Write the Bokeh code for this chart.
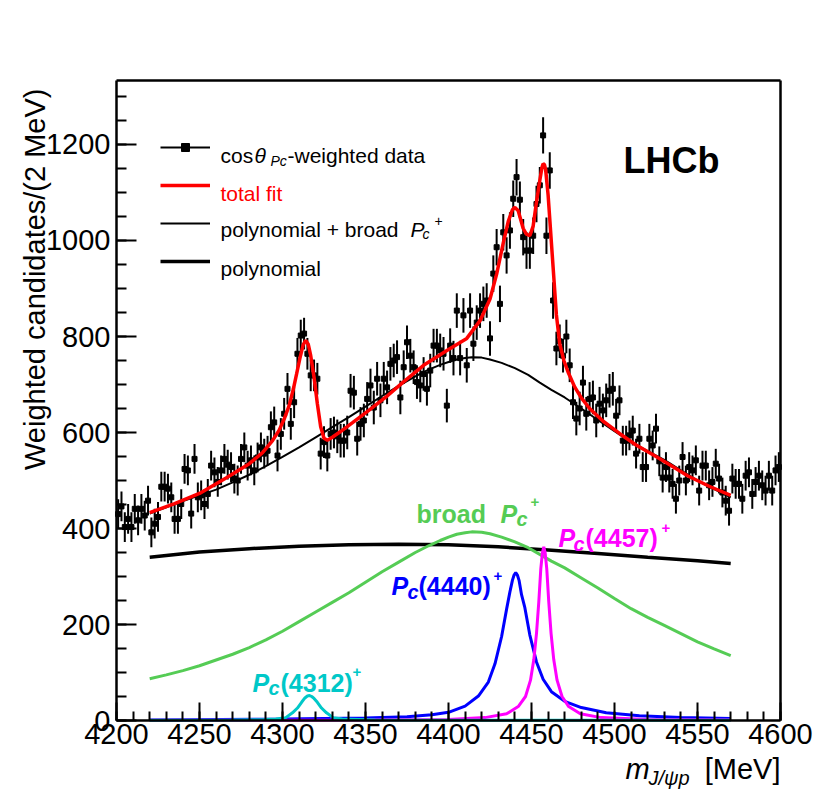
import math
from bokeh.plotting import figure
from bokeh.models import (Range1d, FixedTicker, Label, Legend, LegendItem, ColumnDataSource,
                          LinearAxis)
from bokeh.embed import file_html
from bokeh.resources import INLINE

# ---------------- data ----------------
bin_width = 2.0
bin_lo = 4200
n_bins = 200
data_m = [bin_lo + bin_width * (i + 0.5) for i in range(n_bins)]
data_v = [
    430, 446, 403, 420, 403, 441, 417, 441, 427, 458,
    392, 410, 424, 487, 487, 483, 465, 420, 420, 451,
    524, 521, 431, 545, 465, 469, 451, 472, 531, 517,
    497, 521, 545, 533, 528, 504, 500, 545, 569, 531,
    542, 521, 548, 569, 556, 562, 611, 621, 552, 597,
    639, 691, 618, 663, 764, 802, 806, 764, 719, 719,
    712, 556, 580, 552, 597, 600, 592, 583, 583, 600,
    687, 683, 587, 618, 625, 670, 698, 652, 712, 667,
    712, 694, 743, 750, 757, 673, 736, 788, 760, 736,
    705, 698, 722, 691, 729, 781, 781, 771, 764, 656,
    781, 755, 854, 755, 844, 740, 854, 785, 829, 854,
    868, 875, 796, 931, 986, 868, 1017, 969, 1021, 1087,
    1132, 1085, 1007, 979, 979, 1010, 1076, 1115, 1219, 1010,
    1146, 875, 775, 790, 760, 800, 740, 663, 629, 650,
    704, 639, 670, 673, 625, 660, 646, 667, 687, 691,
    635, 667, 583, 583, 594, 604, 556, 587, 528, 528,
    587, 573, 608, 540, 506, 528, 506, 493, 462, 500,
    549, 500, 528, 521, 542, 479, 531, 531, 490, 497,
    535, 504, 475, 458, 437, 504, 493, 493, 462, 510,
    517, 472, 497, 510, 490, 479, 510, 479, 521, 528,
]
data_err = [31] * 46 + [33] * 20 + [35] * 34 + [36] * 13 + [38] * 19 + [35] * 19 + [31] * 49

# total fit (red)
fit_m = [4220, 4235, 4250, 4266, 4280, 4288, 4294, 4298, 4301, 4304, 4306.5, 4308.5, 4310.5,
         4312.5, 4314, 4315.5, 4317, 4319, 4321, 4323, 4325, 4327, 4330, 4335, 4342, 4352,
         4362, 4372, 4385, 4400, 4411, 4419, 4425, 4429, 4433, 4436, 4438.5, 4440, 4442,
         4445, 4447, 4449, 4451, 4453, 4455, 4456.3, 4457, 4457.8, 4458.5, 4460, 4461.5, 4463,
         4465, 4467, 4469.5, 4472, 4476, 4480, 4485, 4493, 4503, 4513, 4524, 4534, 4544,
         4557, 4570]
fit_v = [433, 452, 473, 505, 535, 558, 583, 605, 628, 656, 690, 722, 755,
         783, 792, 784, 760, 715, 660, 612, 588, 584, 590, 602, 620, 646,
         673, 703, 740, 773, 796, 833, 878, 930, 995, 1040, 1064, 1069, 1062,
         1025, 1013, 1010, 1030, 1080, 1125, 1152, 1160, 1158, 1148, 1095, 1020, 945,
         845, 785, 750, 726, 695, 672, 650, 624, 598, 574, 552, 531, 510,
         488, 469]

# smooth components
comp_m = [4220, 4230, 4240, 4250, 4260, 4270, 4280, 4290, 4300, 4310, 4320, 4330, 4340,
          4350, 4360, 4370, 4380, 4388, 4395, 4400, 4405, 4410, 4414, 4420, 4425, 4432,
          4440, 4448, 4455, 4462, 4470, 4480, 4490, 4500, 4510, 4520, 4530, 4540, 4550,
          4560, 4570]
broad_v = [87, 95, 104, 114, 126, 138, 152, 168, 186, 206, 226, 246, 266,
           288, 310, 330, 350, 364, 375, 382, 388, 391, 393, 392, 389, 382,
           372, 360, 346, 332, 318, 297, 276, 254, 233, 215, 198, 181, 164,
           149, 135]
polybroad_v = [431, 444, 457, 469, 481, 496, 512, 530, 549, 569, 590, 611, 632,
               654, 676, 697, 717, 731, 741, 747, 752, 755, 757, 756, 752, 745,
               734, 720, 704, 689, 673, 650, 626, 603, 580, 561, 543, 521, 500,
               482, 465]

poly_m = [4220, 4250, 4280, 4310, 4340, 4370, 4400, 4430, 4460, 4490, 4520, 4550, 4570]
poly_v = [340, 351, 358, 363, 366, 367, 366, 362, 355, 348, 340, 333, 327]

pc4440_m = [4220, 4300, 4350, 4375, 4390, 4400, 4410, 4418, 4424, 4428, 4432, 4435, 4437,
            4438.5, 4439.5, 4440.5, 4441.5, 4442.5, 4444, 4446, 4449, 4453, 4457, 4462,
            4470, 4480, 4495, 4515, 4540, 4570]
pc4440_v = [1, 3, 5, 8, 12, 17, 30, 51, 80, 118, 175, 232, 268,
            292, 303, 308, 303, 292, 262, 235, 178, 122, 86, 60,
            40, 27, 16, 10, 6, 4]

pc4457_m = [4220, 4350, 4400, 4422, 4435, 4442, 4446.4, 4449.4, 4451.4, 4453, 4454.4, 4455.6,
            4456.6, 4457.4, 4458.2, 4459.2, 4460.4, 4461.8, 4463.4, 4465.4, 4468.4, 4472.4,
            4479.4, 4492, 4520, 4570]
pc4457_v = [0.3, 1, 2, 6, 14, 29, 50, 84, 127, 181, 247, 316,
            350, 362, 350, 316, 247, 181, 127, 84, 50, 29,
            14, 6, 2, 1]

pc4312_m = [4220, 4270, 4290, 4296, 4302, 4306, 4309, 4311.5, 4313.5, 4315, 4316.3, 4317.6,
            4319, 4321, 4323.5, 4326.5, 4330.5, 4336, 4356, 4420, 4570]
pc4312_v = [0.3, 0.8, 2, 3, 6, 16, 26, 38, 47, 51, 52, 50,
            46, 38, 26, 16, 6, 3, 1, 0.5, 0.3]

x_ticks = [4200, 4250, 4300, 4350, 4400, 4450, 4500, 4550, 4600]
x_minor = [v for v in range(4200, 4601, 10)]
y_ticks = [0, 200, 400, 600, 800, 1000, 1200]
y_minor = [v for v in range(0, 1301, 50)]

# ---------------- figure ----------------
X0, X1, Y0, Y1 = 4200.0, 4600.0, 0.0, 1333.3333
FL, FR, FT, FB = 116.0, 780.0, 80.0, 720.0  # axes box in page pixels
W, H = 822, 793
SX = (FR - FL) / (X1 - X0)
SY = (FB - FT) / (Y1 - Y0)


def mx(px):
    return X0 + (px - FL) / SX


def vy(py):
    return Y0 + (FB - py) / SY


# the frame covers the whole canvas; the axes are drawn at fixed data locations
p = figure(width=W, height=H,
           x_range=Range1d(mx(0), mx(W)), y_range=Range1d(vy(H), vy(0)),
           x_axis_location=None, y_axis_location=None,
           output_backend="svg", toolbar_location=None, min_border=0)
p.xgrid.visible = False
p.ygrid.visible = False
p.outline_line_color = None
p.background_fill_color = "white"
p.border_fill_color = "white"


def styled_axis(loc, bounds, ticks, minor, tin, mtin, labels=True):
    ax = LinearAxis(fixed_location=loc, bounds=bounds,
                    ticker=FixedTicker(ticks=ticks, minor_ticks=minor))
    ax.major_tick_in = tin
    ax.major_tick_out = 0
    ax.minor_tick_in = mtin
    ax.minor_tick_out = 0
    ax.axis_line_width = 2.5
    ax.axis_line_color = "black"
    ax.major_tick_line_width = 2
    ax.minor_tick_line_width = 2
    ax.major_label_text_font = "Liberation Sans"
    ax.major_label_text_font_size = "29px" if labels else "0px"
    ax.major_label_text_color = "black"
    return ax


xax = styled_axis(Y0, (X0, X1), x_ticks, x_minor, 18, 9)
xax.major_label_standoff = 3
yax = styled_axis(X0, (Y0, Y1), y_ticks, y_minor, 20, 10)
yax.major_label_standoff = 6
tax = styled_axis(Y1, (X0, X1), [], [], 0, 0, labels=False)
rax = styled_axis(X1, (Y0, Y1), [], [], 0, 0, labels=False)
p.add_layout(xax, "below")
p.add_layout(yax, "left")
p.add_layout(tax, "above")
p.add_layout(rax, "right")

# ---------------- curves & data ----------------
GREEN, BLUE, MAG, CYAN = "#55cc55", "#0000ff", "#ff00ff", "#00c8c8"
r_poly = p.line(poly_m, poly_v, line_color="black", line_width=3.5)
r_broad = p.line(comp_m, broad_v, line_color=GREEN, line_width=3)
r_4440 = p.line(pc4440_m, pc4440_v, line_color=BLUE, line_width=3)
r_4457 = p.line(pc4457_m, pc4457_v, line_color=MAG, line_width=3)
r_4312 = p.line(pc4312_m, pc4312_v, line_color=CYAN, line_width=3)

src = ColumnDataSource(dict(
    x=data_m, y=data_v,
    lo=[v - e for v, e in zip(data_v, data_err)],
    hi=[v + e for v, e in zip(data_v, data_err)],
))
r_err = p.segment(x0="x", y0="lo", x1="x", y1="hi", source=src, line_color="black", line_width=2)
r_pts = p.scatter(x="x", y="y", source=src, marker="square", size=5, fill_color="black", line_color="black")

r_pb = p.line(comp_m, polybroad_v, line_color="black", line_width=2)
r_fit = p.line(fit_m, fit_v, line_color="#ff0000", line_width=3.5)

legend = Legend(items=[
    LegendItem(label=" ", renderers=[r_err, r_pts]),
    LegendItem(label=" ", renderers=[r_fit]),
    LegendItem(label=" ", renderers=[r_pb]),
    LegendItem(label=" ", renderers=[r_poly]),
], location=(160, H - 271), glyph_width=50, glyph_height=20, label_height=20, spacing=18,
    padding=0, margin=0, border_line_color=None, background_fill_alpha=0,
    label_text_font_size="2px")
p.add_layout(legend)

# ---------------- texts ----------------
FONT = "Liberation Sans"


def txt(s, px, py, size, style="normal", color="black", align="left", angle=0.0, baseline="alphabetic"):
    p.add_layout(Label(x=mx(px), y=vy(py), text=s, text_font=FONT, text_font_size=f"{size}px",
                       text_font_style=style, text_color=color, text_align=align,
                       text_baseline=baseline, angle=angle))


# legend texts
txt("cos", 220, 155, 21)
txt("θ", 254, 155, 21, "italic")
txt("Pc", 270, 160, 14, "italic")
txt("-weighted data", 287, 155, 21)
txt("total fit", 220, 193, 21, color="#ff0000")
txt("polynomial + broad", 220, 229, 21)
txt("P", 410, 229, 21, "italic")
txt("c", 422, 233, 14, "italic")
txt("+", 434, 220, 14)
txt("polynomial", 220, 268, 21)

# LHCb
txt("LHCb", 623, 160, 36, "bold")

# component labels
txt("broad", 416, 513, 25, "bold", GREEN)
txt("P", 500, 513, 25, "bold italic", GREEN)
txt("c", 516, 518, 20, "bold italic", GREEN)
txt("+", 530, 501, 15, "bold", GREEN)

txt("P", 558, 537, 25, "bold italic", MAG)
txt("c", 573, 543, 20, "bold italic", MAG)
txt("(4457)", 585, 537, 25, "bold", MAG)
txt("+", 661, 527, 15, "bold", MAG)

txt("P", 391, 585, 25, "bold italic", BLUE)
txt("c", 407, 591, 20, "bold italic", BLUE)
txt("(4440)", 418, 585, 25, "bold", BLUE)
txt("+", 493, 575, 15, "bold", BLUE)

txt("P", 252, 682, 25, "bold italic", CYAN)
txt("c", 268, 687, 20, "bold italic", CYAN)
txt("(4312)", 280, 682, 25, "bold", CYAN)
txt("+", 352, 671, 15, "bold", CYAN)

# axis titles
txt("Weighted candidates/(2 MeV)", 34, 88, 29, align="right", angle=math.pi / 2, baseline="middle")
txt("m", 625, 768, 29, "italic")
txt("J/ψp", 648, 777, 20, "italic")
txt("[MeV]", 780, 768, 29, align="right")

open("out.html", "w").write(file_html(p, INLINE))
